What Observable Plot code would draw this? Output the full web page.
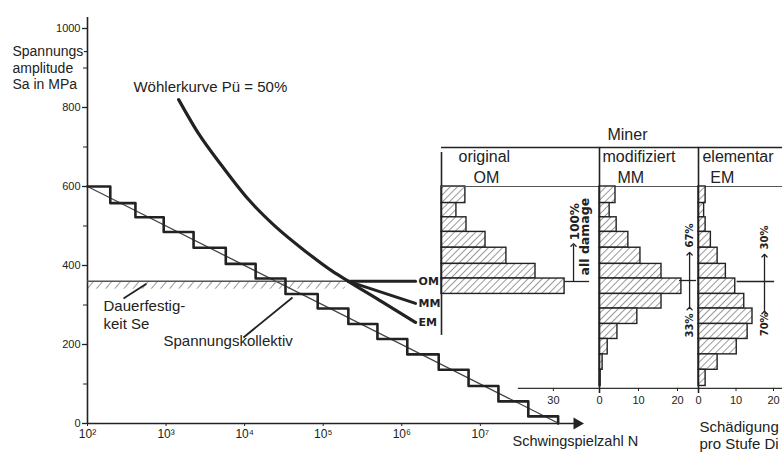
<!DOCTYPE html>
<html><head><meta charset="utf-8">
<script src="https://cdn.jsdelivr.net/npm/d3@7"></script>
<script src="https://cdn.jsdelivr.net/npm/@observablehq/plot@0.6"></script>
<style>
html,body{margin:0;padding:0;background:#fff;}
#chart{position:relative;width:782px;height:452px;overflow:hidden;background:#fff;}
#chart svg{position:absolute;left:0;top:0;}
</style></head><body>
<svg width="0" height="0" style="position:absolute">
<defs>
<pattern id="hatchBar" width="5" height="5" patternUnits="userSpaceOnUse" patternTransform="rotate(45)">
<rect width="5" height="5" fill="#fff"/>
<line x1="0" y1="0" x2="0" y2="5" stroke="#444" stroke-width="1.1"/>
</pattern>
<pattern id="hatchSe" width="7" height="7" patternUnits="userSpaceOnUse" patternTransform="rotate(40)">
<line x1="0" y1="0" x2="0" y2="7" stroke="#666" stroke-width="1.3"/>
</pattern>
</defs></svg>
<div id="chart"></div>
<script>
// ---------------- data ----------------
// staircase (Spannungskollektiv): step boundaries in log10(N) and stress levels (MPa)
const stepLogN   = [2.00, 2.29, 2.61, 2.97, 3.35, 3.76, 4.14, 4.52, 4.93, 5.32, 5.69, 6.07, 6.47, 6.85, 7.23, 7.61, 7.99];
const stepLevels = [600, 558, 522, 485, 445, 404, 367, 328, 291, 252, 214, 175, 136, 95, 56, 18, 0];
// straight line of the collective
const diagLogN = [2.0, 8.0];
const diagS    = [600, 0];
// Wöhler curve Pü = 50% (continues as EM branch)
const woehlerLogN = [3.16, 3.41, 3.72, 4.05, 4.39, 4.78, 5.12, 5.32, 5.75, 6.175];
const woehlerS    = [820, 735, 650, 567, 499, 435, 385, 360, 308, 256];
// modified Miner branch
const mmLogN = [5.32, 6.175];
const mmS    = [360, 304];
// original Miner branch (fatigue limit)
const omLogN = [5.32, 6.175];
const omS    = [360, 360];
// fatigue limit Se
const seS = 360;
const seLogN = [2.0, 5.32];
const seBandLogN = [2.0, 5.28];
const seBandS = [340, 360];
// damage per stage Di (histograms), band k spans stepLevels[k+1]..stepLevels[k]
const omDamage = [6.4, 4.0, 6.7, 11.8, 17.4, 25.2, 33.0];
const mmDamage = [4.1, 2.6, 4.4, 7.4, 10.5, 15.9, 21.0, 15.9, 9.7, 4.6, 2.1, 0.8, 0.3];
const emDamage = [1.9, 1.5, 1.9, 3.3, 5.1, 7.3, 9.8, 12.2, 14.4, 13.1, 10.2, 5.1, 1.9];
// tick labels
const xTickExp = [2, 3, 4, 5, 6, 7];
const yTicks = [0, 200, 400, 600, 800, 1000];
const yMinor = [100, 300, 500, 700, 900];
const omTicks = [30];
const mmTicks = [0, 10, 20];
const emTicks = [0, 10, 20];
const branchNames = ["OM", "MM", "EM"];

// ---------------- helpers ----------------
const INK = "#222";
const FONT = "'Liberation Sans', Arial, Helvetica, sans-serif";
const BOLD = "'DejaVu Sans', 'Liberation Sans', sans-serif";
const pow = l => Math.pow(10, l);
const supDigits = {2:"²",3:"³",4:"⁴",5:"⁵",6:"⁶",7:"⁷",8:"⁸"};
const pts = (ls, ss) => ls.map((l, i) => ({N: pow(l), S: ss[i]}));
const W = 782, H = 452, MT = 28, MB = 29;
const baseStyle = {fontFamily: FONT, background: "transparent", color: INK, overflow: "visible"};

const stair = pts(stepLogN, stepLevels);
const diag = pts(diagLogN, diagS);
const woehler = pts(woehlerLogN, woehlerS);
const mm = pts(mmLogN, mmS);
const om = pts(omLogN, omS);
const se = seLogN.map(l => ({N: pow(l), S: seS}));
const branchEnds = [
  {N: pow(omLogN[1]), S: omS[1], t: branchNames[0]},
  {N: pow(mmLogN[1]), S: mmS[1], t: branchNames[1]},
  {N: pow(woehlerLogN[woehlerLogN.length-1]), S: woehlerS[woehlerS.length-1], t: branchNames[2]}
];
// annotation anchors (log10 N, S)
const labels = [
  {l: 1.045, S: 845.6, t: "Spannungs-\namplitude\nSa in MPa", fs: 14, lh: 1.214},
  {l: 2.585, S: 840.5, t: "Wöhlerkurve Pü = 50%", fs: 15, lh: 1.2},
  {l: 2.204, S: 240.5, t: "Dauerfestig-\nkeit Se", fs: 15, lh: 1.2},
  {l: 2.967, S: 195.0, t: "Spannungskollektiv", fs: 15, lh: 1.2},
  {l: 7.409, S: -58.2, t: "Schwingspielzahl N", fs: 14.5, lh: 1.2},
  {l: 9.789, S: -63.3, t: "Schädigung\npro Stufe Di", fs: 15, lh: 1.133}
].map(d => ({...d, N: pow(d.l)}));
const leaders = [
  {a: 2.458, sa: 316.5, b: 2.75, sb: 354},
  {a: 3.985, sa: 217.7, b: 4.609, sb: 319}
].map(d => ({x1: pow(d.a), y1: d.sa, x2: pow(d.b), y2: d.sb}));

function textMarks(arr) {
  return arr.map(d => Plot.text([d], {x: "N", y: "S", text: "t", textAnchor: "start", lineAnchor: "bottom",
    fontSize: d.fs, lineHeight: d.lh, fill: INK, fontFamily: FONT}));
}

// ---------------- main chart ----------------
const main = Plot.plot({
  width: W, height: H, marginLeft: 87, marginRight: 200, marginTop: MT, marginBottom: MB,
  x: {type: "log", domain: [pow(2), pow(8.3)], label: null},
  y: {domain: [0, 1000], label: null},
  style: {...baseStyle, fontSize: "11px"},
  marks: [
    Plot.rect([{}], {x1: () => pow(seBandLogN[0]), x2: () => pow(seBandLogN[1]), y1: () => seBandS[0], y2: () => seBandS[1], fill: "url(#hatchSe)"}),
    Plot.ruleX([pow(2)], {y1: 0, y2: 1028, stroke: INK, strokeWidth: 1.6}),
    Plot.axisY({ticks: yTicks, tickSize: 5, tickPadding: 2, fontSize: 11, tickFormat: d => String(d), label: null, stroke: INK, strokeWidth: 1.3}),
    Plot.axisY({ticks: yMinor, tickSize: 4, tickFormat: () => "", label: null, stroke: INK}),
    Plot.ruleY([0], {x1: pow(2), x2: pow(8.22), stroke: INK, strokeWidth: 1.6}),
    Plot.dot([{N: pow(8.23), S: 0}], {x: "N", y: "S", symbol: "triangle", rotate: 90, r: 4.5, fill: INK, stroke: null}),
    Plot.axisX({ticks: xTickExp.map(pow), tickFormat: d => "10" + supDigits[Math.round(Math.log10(d))], tickSize: 3, tickPadding: 3, fontSize: 12, label: null, stroke: INK}),
    Plot.line(diag, {x: "N", y: "S", stroke: "#444", strokeWidth: 1.3}),
    Plot.line(se, {x: "N", y: "S", stroke: "#555", strokeWidth: 1.5}),
    Plot.line(stair, {x: "N", y: "S", curve: "step-after", stroke: INK, strokeWidth: 2.6}),
    Plot.line(woehler, {x: "N", y: "S", curve: "monotone-x", stroke: INK, strokeWidth: 3.2}),
    Plot.line(mm, {x: "N", y: "S", stroke: INK, strokeWidth: 3}),
    Plot.line(om, {x: "N", y: "S", stroke: INK, strokeWidth: 3}),
    Plot.text(branchEnds, {x: "N", y: "S", text: "t", textAnchor: "start", dx: 3, fontSize: 11, fontWeight: "bold", fontFamily: BOLD, fill: INK}),
    Plot.link(leaders, {x1: "x1", y1: "y1", x2: "x2", y2: "y2", stroke: INK, strokeWidth: 1.8}),
    ...textMarks(labels)
  ]
});

// ---------------- histogram panels ----------------
function bars(dmg) { return dmg.map((D, i) => ({D, lo: stepLevels[i+1], hi: stepLevels[i]})); }
function panel({left, pxPerUnit, dmg, ticks, extra, axisY}) {
  const xmax = (W - left) / pxPerUnit;
  return Plot.plot({
    width: W, height: H, marginLeft: left, marginRight: 0, marginTop: MT, marginBottom: MB,
    x: {domain: [0, xmax], axis: null},
    y: {domain: [0, 1000], axis: null},
    style: {...baseStyle, fontSize: "11px"},
    marks: [
      Plot.rect(bars(dmg), {x1: () => 0, x2: "D", y1: "lo", y2: "hi", fill: "url(#hatchBar)", stroke: INK, strokeWidth: 1.4}),
      Plot.ruleX([0], {y1: axisY[0], y2: axisY[1], stroke: INK, strokeWidth: 1.6}),
      Plot.ruleX(ticks, {x: d => d, y1: 81, y2: 89, stroke: INK, strokeWidth: 1}),
      Plot.text(ticks, {x: d => d, y: 89, dy: 16, lineAnchor: "bottom", text: d => String(d), fontSize: 11, fill: INK}),
      ...extra(xmax)
    ]
  });
}
const pctStyle = {rotate: -90, fontSize: 10, fontWeight: "bold", fontFamily: BOLD, fill: INK, textAnchor: "middle", lineAnchor: "middle"};
const hdr = (x, S, t, fs = 16) => Plot.text([{x, S, t}], {x: "x", y: "S", text: "t", textAnchor: "start", lineAnchor: "bottom", fontSize: fs, fill: INK});

const omPanel = panel({left: 441, pxPerUnit: 3.73, dmg: omDamage, ticks: omTicks, axisY: [223, 686],
  extra: xmax => [
    Plot.ruleY([699], {x1: 0, x2: xmax, stroke: INK, strokeWidth: 1.5}),
    Plot.ruleY([600], {x1: 0, x2: xmax, stroke: "#555", strokeWidth: 1}),
    Plot.ruleY([89], {x1: 20.6, x2: xmax, stroke: "#333", strokeWidth: 1.2}),
    Plot.ruleY([359.5], {x1: 33.0, x2: 39.7, stroke: INK, strokeWidth: 1.3}),
    Plot.link([{}], {x1: () => 35.4, x2: () => 35.4, y1: () => 359.5, y2: () => 452, stroke: INK, strokeWidth: 1.3, markerEnd: "arrow"}),
    Plot.text([{x: 35.7, S: 511, t: "100%"}], {x: "x", y: "S", text: "t", ...pctStyle, fontSize: 12}),
    Plot.text([{x: 38.6, S: 473, t: "all damage"}], {x: "x", y: "S", text: "t", ...pctStyle, fontSize: 12.5}),
    hdr(4.56, 660.8, "original"),
    hdr(8.58, 610, "OM"),
    hdr(44.5, 716.5, "Miner")
  ]});
const mmPanel = panel({left: 599, pxPerUnit: 3.9, dmg: mmDamage, ticks: mmTicks, axisY: [76, 699],
  extra: () => [
    Plot.ruleY([362], {x1: 20.5, x2: 24.9, stroke: INK, strokeWidth: 1.3}),
    Plot.link([{}], {x1: () => 23.1, x2: () => 23.1, y1: () => 291, y2: () => 430, stroke: INK, strokeWidth: 1.3, markerStart: "arrow", markerEnd: "arrow"}),
    Plot.text([{x: 23.1, S: 476, t: "67%"}], {x: "x", y: "S", text: "t", ...pctStyle}),
    Plot.text([{x: 23.1, S: 248, t: "33%"}], {x: "x", y: "S", text: "t", ...pctStyle}),
    hdr(0.77, 660.8, "modifiziert"),
    hdr(4.6, 610, "MM")
  ]});
const emPanel = panel({left: 698, pxPerUnit: 3.75, dmg: emDamage, ticks: emTicks, axisY: [76, 699],
  extra: () => [
    Plot.ruleY([359.5], {x1: 10.3, x2: 20.3, stroke: INK, strokeWidth: 1.3}),
    Plot.link([{}], {x1: () => 17.6, x2: () => 17.6, y1: () => 281, y2: () => 425, stroke: INK, strokeWidth: 1.3, markerStart: "arrow", markerEnd: "arrow"}),
    Plot.text([{x: 17.6, S: 471, t: "30%"}], {x: "x", y: "S", text: "t", ...pctStyle}),
    Plot.text([{x: 17.6, S: 251, t: "70%"}], {x: "x", y: "S", text: "t", ...pctStyle}),
    hdr(1.05, 660.8, "elementar"),
    hdr(3.16, 610, "EM")
  ]});

const chart = document.getElementById("chart");
[main, omPanel, mmPanel, emPanel].forEach(p => chart.appendChild(p));
</script>
</body></html>
